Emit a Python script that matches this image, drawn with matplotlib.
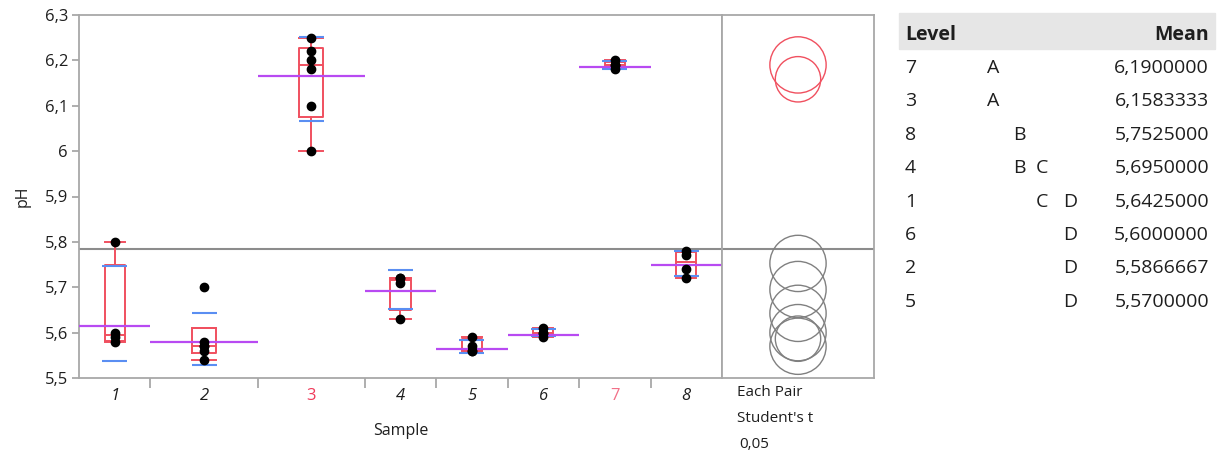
import numpy as np
import matplotlib
matplotlib.use('Agg')
import matplotlib.pyplot as plt
from matplotlib.patches import Circle, Rectangle

plt.rcParams['font.family'] = ['Open Sans', 'DejaVu Sans']

# data
samples = ['1', '2', '3', '4', '5', '6', '7', '8']
ph_values = [
    [5.58, 5.59, 5.60, 5.80],
    [5.54, 5.56, 5.57, 5.57, 5.58, 5.70],
    [6.00, 6.10, 6.18, 6.20, 6.22, 6.25],
    [5.63, 5.71, 5.72, 5.72],
    [5.56, 5.56, 5.57, 5.59],
    [5.59, 5.60, 5.60, 5.61],
    [6.18, 6.19, 6.19, 6.20],
    [5.72, 5.74, 5.77, 5.78],
]
mean_line = [5.615, 5.579, 6.166, 5.692, 5.565, 5.595, 6.186, 5.749]
circle_radius = [0.062, 0.050, 0.050, 0.062, 0.062, 0.062, 0.062, 0.062]
highlighted = ['3', '7']

table_levels = ['7', '3', '8', '4', '1', '6', '2', '5']
table_letters = [['A'], ['A'], ['B'], ['B', 'C'], ['C', 'D'], ['D'], ['D'], ['D']]
table_means = ['6,1900000', '6,1583333', '5,7525000', '5,6950000',
               '5,6425000', '5,6000000', '5,5866667', '5,5700000']

red = '#F0505F'
blue = '#5A8EF2'
purple = '#B84AF2'
grey = '#A8A8A8'
txt = '#1E1E1E'

W, H = 1219, 454
fig = plt.figure(figsize=(W / 100, H / 100), dpi=100)


def fx(x):
    return x / W


def fy(y):
    return 1 - y / H


top, bot = 15, 378
ax = fig.add_axes([fx(79), fy(bot), fx(722 - 79), (bot - top) / H])
axc = fig.add_axes([fx(722), fy(bot), fx(874 - 722), (bot - top) / H], sharey=ax)

ns = np.array([len(v) for v in ph_values])
edges = np.concatenate([[0], np.cumsum(ns)])
centers = (edges[:-1] + edges[1:]) / 2

# JMP style quantiles and whiskers
stats = []
for v in ph_values:
    v = np.array(v)
    q1, med, q3 = np.percentile(v, [25, 50, 75], method='weibull')
    iqr = q3 - q1
    lo = v[v >= q1 - 1.5 * iqr].min()
    hi = v[v <= q3 + 1.5 * iqr].max()
    stats.append(dict(med=med, q1=q1, q3=q3, whislo=min(lo, q1), whishi=max(hi, q3), fliers=[]))

box_w = 0.56 * np.sqrt(ns)
ax.bxp(stats, positions=centers, widths=box_w, capwidths=box_w, showfliers=False,
       boxprops=dict(color=red, lw=1.4), whiskerprops=dict(color=red, lw=1.4),
       capprops=dict(color=red, lw=1.4), medianprops=dict(color=red, lw=1.4),
       manage_ticks=False)

for i, v in enumerate(ph_values):
    v = np.array(v)
    m, sd = v.mean(), v.std(ddof=1)
    ax.hlines([m - sd, m + sd], centers[i] - 0.7, centers[i] + 0.7, color=blue, lw=1.5, zorder=3)
    ax.hlines(mean_line[i], edges[i], edges[i + 1], color=purple, lw=1.6, zorder=4)
    ax.plot(np.full(len(v), centers[i]), v, 'o', color='black', ms=6, zorder=5)

grand_mean = np.concatenate(ph_values).mean()
ax.axhline(grand_mean, color='#8C8C8C', lw=1.5, zorder=1)
axc.axhline(grand_mean, color='#8C8C8C', lw=1.5, zorder=1)

ax.set_xlim(0, edges[-1])
ax.set_ylim(5.5, 6.3)
yt = np.round(np.arange(5.5, 6.31, 0.1), 1)
ax.set_yticks(yt)
ax.set_yticklabels([('%g' % t).replace('.', ',') for t in yt], fontsize=12, color=txt)
ax.set_xticks(centers)
ax.set_xticklabels(samples, fontsize=12, color=txt)
for lab in ax.get_xticklabels():
    if lab.get_text() in highlighted:
        lab.set_color('#F03A5A' if lab.get_text() == '3' else '#F27088')
    else:
        lab.set_style('italic')
ax.set_xticks(edges[1:-1], minor=True)
ax.tick_params(axis='x', which='major', length=0, pad=7)
ax.tick_params(axis='x', which='minor', length=7, color=grey, width=1.3)
ax.tick_params(axis='y', length=5, color=grey, width=1.3, pad=3)
ax.set_xlabel('Sample', fontsize=11.5, color=txt, labelpad=14)
ax.set_ylabel('pH', fontsize=11.5, color=txt, labelpad=10)

# comparison circles, kept round in pixels
pxu = (bot - top) / 0.8
half = (874 - 722) / pxu / 2
axc.set_xlim(-half, half)
for i, v in enumerate(ph_values):
    c = red if samples[i] in highlighted else '#808080'
    axc.add_patch(Circle((0, np.mean(v)), circle_radius[i], fill=False, ec=c, lw=1.0))
axc.tick_params(left=False, labelleft=False, bottom=False, labelbottom=False)

for a in (ax, axc):
    for s in a.spines.values():
        s.set_color(grey)
        s.set_linewidth(1.3)

fig.text(fx(737), fy(392), 'Each Pair', fontsize=11, color=txt, va='center')
fig.text(fx(737), fy(418), "Student's t", fontsize=11, color=txt, va='center')
fig.text(fx(739), fy(445), '0,05', fontsize=11, color=txt, va='center')

# connecting letters report
fig.patches.append(Rectangle((fx(899), fy(49)), fx(1215 - 899), (49 - 13) / H,
                             transform=fig.transFigure, color='#E6E6E6', zorder=0))
fs = 14
fig.text(fx(905), fy(35), 'Level', fontsize=fs, fontweight='bold', color=txt, va='center')
fig.text(fx(1209), fy(35), 'Mean', fontsize=fs, fontweight='bold', color=txt, va='center', ha='right')
letter_x = {'A': 987, 'B': 1013, 'C': 1036, 'D': 1063}
for r, lvl in enumerate(table_levels):
    yy = fy(68 + r * 33.4)
    fig.text(fx(905), yy, lvl, fontsize=fs, color=txt, va='center')
    for L in table_letters[r]:
        fig.text(fx(letter_x[L]), yy, L, fontsize=fs, color=txt, va='center')
    fig.text(fx(1209), yy, table_means[r], fontsize=fs, color=txt, va='center', ha='right')

fig.savefig('out.png', dpi=100)
